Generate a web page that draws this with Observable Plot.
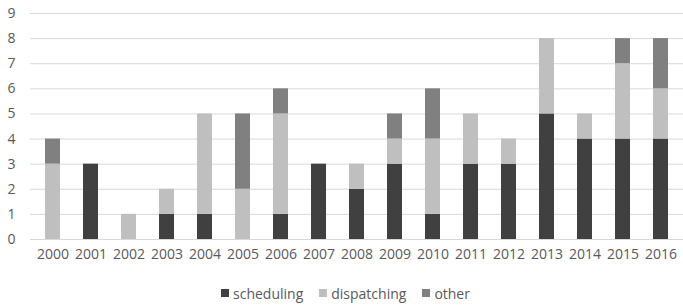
<!DOCTYPE html>
<html>
<head>
<meta charset="utf-8">
<script src="https://cdn.jsdelivr.net/npm/d3@7"></script>
<script src="https://cdn.jsdelivr.net/npm/@observablehq/plot@0.6"></script>
<style>
  body { margin: 0; background: #fff; font-family: "Open Sans", sans-serif; }
  #legend { display: flex; justify-content: center; align-items: center; height: 24px; padding-top: 6px; padding-left: 8px; width: 675px; font-size: 14px; color: #595959; }
  .item { display: flex; align-items: center; margin: 0 8px; }
  .sw { width: 8px; height: 8px; margin-right: 4px; }
</style>
</head>
<body>
<div id="chart"></div>
<div id="legend"></div>
<script>
const years = ["2000","2001","2002","2003","2004","2005","2006","2007","2008","2009","2010","2011","2012","2013","2014","2015","2016"];
const seriesNames = ["scheduling", "dispatching", "other"];
const scheduling  = [0,3,0,1,1,0,1,3,2,3,1,3,3,5,4,4,4];
const dispatching = [3,0,1,1,4,2,4,0,1,1,3,2,1,3,1,3,2];
const other       = [1,0,0,0,0,3,1,0,0,1,2,0,0,0,0,1,2];
const yTicks = [0,1,2,3,4,5,6,7,8,9];
const colors = ["#404040", "#bfbfbf", "#808080"];

const seriesValues = [scheduling, dispatching, other];
const data = [];
seriesNames.forEach((s, si) => {
  years.forEach((y, i) => data.push({year: y, series: s, value: seriesValues[si][i]}));
});

const chart = Plot.plot({
  width: 683,
  height: 275,
  marginLeft: 30,
  marginRight: 0,
  marginTop: 13,
  marginBottom: 36,
  style: { fontFamily: "Open Sans, sans-serif", fontSize: "14px", color: "#595959", background: "#fff" },
  x: { domain: years, paddingInner: 0.6, paddingOuter: 0.3, label: null, tickSize: 0, tickPadding: 10 },
  y: { domain: [0, 9], ticks: yTicks, label: null, tickSize: 0, tickPadding: 15 },
  color: { domain: seriesNames, range: colors },
  marks: [
    Plot.gridY(yTicks, { stroke: "#d9d9d9", strokeOpacity: 1, strokeWidth: 1 }),
    Plot.barY(data, { x: "year", y: "value", fill: "series", order: seriesNames }),
    Plot.axisX({ tickSize: 0, tickPadding: 10, label: null }),
    Plot.axisY({ ticks: yTicks, tickSize: 0, tickPadding: 15, label: null })
  ]
});
document.getElementById("chart").appendChild(chart);

const legend = document.getElementById("legend");
seriesNames.forEach((s, i) => {
  const item = document.createElement("div");
  item.className = "item";
  const sw = document.createElement("span");
  sw.className = "sw";
  sw.style.background = colors[i];
  const t = document.createElement("span");
  t.textContent = s;
  item.appendChild(sw);
  item.appendChild(t);
  legend.appendChild(item);
});
</script>
</body>
</html>
